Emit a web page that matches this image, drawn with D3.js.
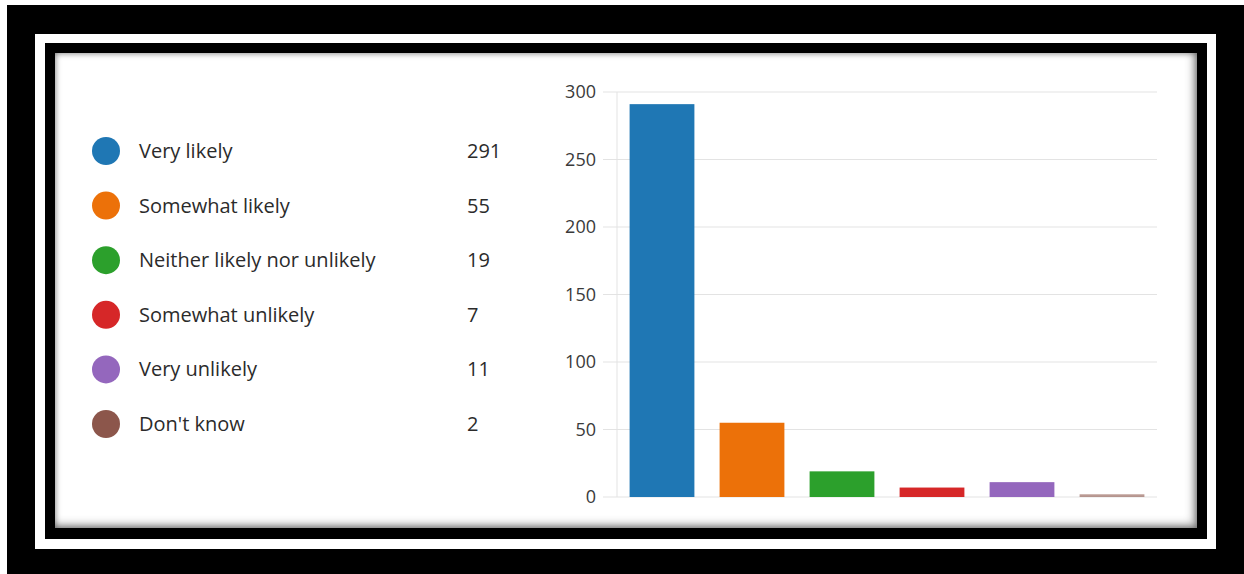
<!DOCTYPE html>
<html>
<head>
<meta charset="utf-8">
<script src="https://cdn.jsdelivr.net/npm/d3@7"></script>
<style>
  html, body { margin: 0; padding: 0; background: #fff; }
  #wrap { position: relative; width: 1244px; height: 574px; overflow: hidden; }
  #panel { position: absolute; left: 55px; top: 53px; width: 1142px; height: 475px;
           background: #fff; box-shadow: inset 0 0 6px rgba(0,0,0,0.5), inset -4px -4px 8px rgba(0,0,0,0.3); }
  svg { position: absolute; left: 0; top: 0; }
</style>
</head>
<body>
<div id="wrap">
  <svg id="frame" width="1244" height="574"></svg>
  <div id="panel"></div>
  <svg id="chart" width="1244" height="574"></svg>
</div>
<script>
// survey answers
var categories = ["Very likely", "Somewhat likely", "Neither likely nor unlikely", "Somewhat unlikely", "Very unlikely", "Don't know"];
var counts = [291, 55, 19, 7, 11, 2];
var colors = ["#1f77b4", "#ec7109", "#2ca02c", "#d62728", "#9467bd", "#8c564b"];
var yTicks = [0, 50, 100, 150, 200, 250, 300];

var font = "'Open Sans', 'Noto Sans', sans-serif";

// the black / white / black frame round the picture
var frame = d3.select("#frame");
frame.append("rect").attr("x", 7).attr("y", 5).attr("width", 1237).attr("height", 569).attr("fill", "#000");
frame.append("rect").attr("x", 35).attr("y", 34).attr("width", 1181).attr("height", 515).attr("fill", "#fff");
frame.append("rect").attr("x", 45).attr("y", 43).attr("width", 1162).attr("height", 496).attr("fill", "#000");

var svg = d3.select("#chart");

// legend
var legend = svg.append("g").attr("class", "legend");
var rows = legend.selectAll("g.row").data(categories).enter().append("g")
  .attr("class", "row")
  .attr("transform", function(d, i){ return "translate(0," + (151 + i * 54.6) + ")"; });

rows.append("circle").attr("cx", 106).attr("cy", 0).attr("r", 14)
  .attr("fill", function(d, i){ return colors[i]; });
rows.append("text").attr("x", 139).attr("y", 7)
  .attr("font-family", font).attr("font-size", 20).attr("fill", "#2b2b2b")
  .text(function(d){ return d; });
rows.append("text").attr("x", 467).attr("y", 7)
  .attr("font-family", font).attr("font-size", 20).attr("fill", "#2b2b2b")
  .text(function(d, i){ return counts[i]; });

// bar chart
var x = d3.scaleBand().domain(categories).range([617, 1157]).paddingInner(0.28).paddingOuter(0.14);
var y = d3.scaleLinear().domain([0, 300]).range([497, 92]);

var grid = svg.append("g").attr("class", "grid");
grid.selectAll("line").data(yTicks).enter().append("line")
  .attr("x1", 603).attr("x2", 1157)
  .attr("y1", function(d){ return y(d); }).attr("y2", function(d){ return y(d); })
  .attr("stroke", "#e3e3e3").attr("stroke-width", 1);
grid.append("line").attr("x1", 617).attr("x2", 617).attr("y1", y(300)).attr("y2", y(0))
  .attr("stroke", "#e3e3e3");

var yAxis = svg.append("g").attr("transform", "translate(596,0)")
  .call(d3.axisLeft(y).tickValues(yTicks).tickSize(0).tickPadding(0));
yAxis.select(".domain").remove();
yAxis.selectAll("text").attr("font-family", font).attr("font-size", 18).attr("fill", "#3a3a3a");

svg.append("g").selectAll("rect").data(categories).enter().append("rect")
  .attr("x", function(d){ return x(d); })
  .attr("width", x.bandwidth())
  .attr("y", function(d, i){ return y(counts[i]); })
  .attr("height", function(d, i){ return y(0) - y(counts[i]); })
  .attr("fill", function(d, i){ return colors[i]; })
  .attr("fill-opacity", function(d, i){ return i === 5 ? 0.6 : 1; });
</script>
</body>
</html>
